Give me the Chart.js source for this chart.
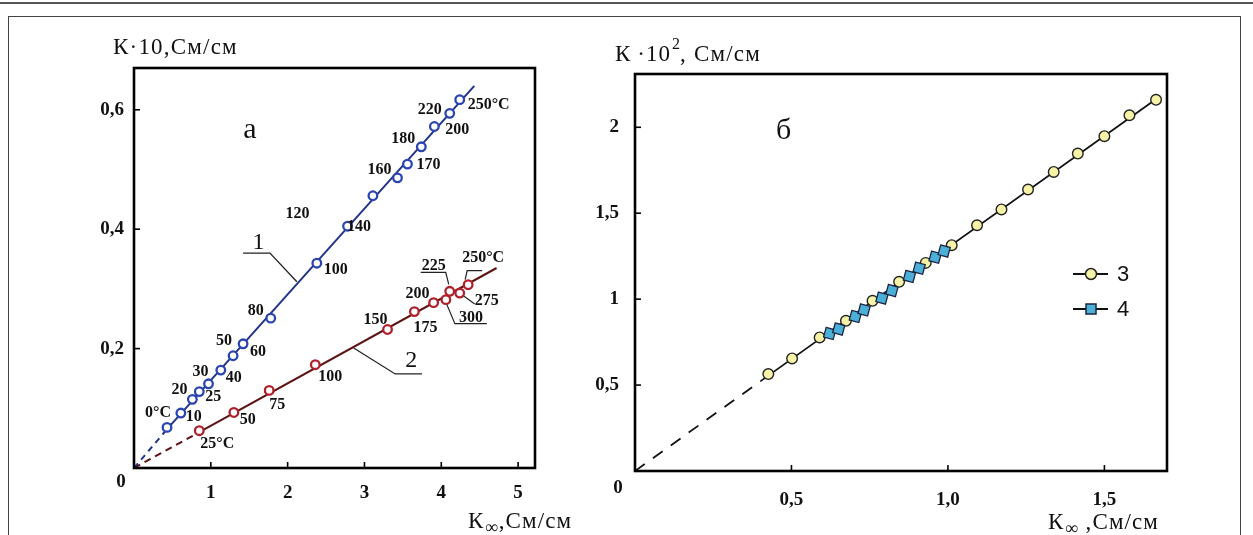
<!DOCTYPE html>
<html><head><meta charset="utf-8">
<script src="https://cdn.jsdelivr.net/npm/chart.js@4.4.1/dist/chart.umd.min.js"></script>
<style>
html,body{margin:0;padding:0;background:#fff;width:1253px;height:535px;overflow:hidden;position:relative}
#topline{position:absolute;left:0;top:2px;width:1253px;height:2px;background:#555}
#frame{position:absolute;left:8px;top:16px;width:1233px;height:600px;border:1.5px solid #444;box-sizing:border-box}
canvas{position:absolute;top:0}
#ca{left:0}
#cb{left:560px}
</style></head><body>
<div id="topline"></div><div id="frame"></div>
<canvas id="ca" width="600" height="535"></canvas>
<canvas id="cb" width="693" height="535"></canvas>
<script>
const SERIF = '"Liberation Serif", "Times New Roman", serif';
const SANS = '"Liberation Sans", Arial, sans-serif';

// ---------- Panel а ----------
const aXMax = 5.22, aYMax = 0.67;
// series 1 (blue)
const s1X = [0.43, 0.61, 0.76, 0.85, 0.97, 1.13, 1.29, 1.42, 1.78, 2.38, 2.78, 3.11, 3.43, 3.56, 3.74, 3.91, 4.11, 4.24];
const s1Y = [0.068, 0.092, 0.115, 0.128, 0.141, 0.164, 0.188, 0.208, 0.251, 0.343, 0.405, 0.456, 0.486, 0.509, 0.538, 0.572, 0.594, 0.617];
const s1T = ['0°C','10','20','25','30','40','50','60','80','100','120','140','160','170','180','200','220','250°C'];
// series 2 (red)
const s2X = [0.85, 1.30, 1.76, 2.36, 3.30, 3.65, 3.90, 4.06, 4.11, 4.24, 4.35];
const s2Y = [0.0625, 0.093, 0.130, 0.173, 0.232, 0.262, 0.277, 0.282, 0.296, 0.293, 0.307];
const s2T = ['25°C','50','75','100','150','175','200','300','225','275','250°C'];
// fitted lines (dashed part to origin, then solid)
const fit1X = [0, 0.43, 4.43], fit1Y = [0, 0.065, 0.640];
const fit2X = [0, 0.85, 4.72], fit2Y = [0, 0.060, 0.335];

// ---------- Panel б ----------
const bXMax = 1.70, bYMax = 2.31;
const s3X = [0.426, 0.502, 0.590, 0.674, 0.759, 0.844, 0.929, 1.012, 1.093, 1.171, 1.256, 1.338, 1.415, 1.500, 1.580, 1.665];
const s3Y = [0.564, 0.655, 0.777, 0.874, 0.990, 1.101, 1.211, 1.314, 1.430, 1.522, 1.638, 1.740, 1.847, 1.948, 2.070, 2.160];
const s4X = [0.622, 0.651, 0.704, 0.732, 0.789, 0.821, 0.877, 0.908, 0.959, 0.988];
const s4Y = [0.800, 0.826, 0.899, 0.937, 1.006, 1.050, 1.132, 1.180, 1.244, 1.280];
const fit3X = [0, 0.426, 1.67], fit3Y = [0, 0.555, 2.17];
const legendNames = ['3', '4'];

// ---------- layout tables (pixel offsets of the temperature labels) ----------
const s1LabelOff = [[-9,-15],[13,4],[-13,-9],[14,5],[-8,-12],[13,8],[-9,-15],[15,8],[-15,-7],[19,7],[-50,-12],[-14,31],[-18,-8],[21,1],[-18,-8],[23,3],[-20,-4],[8,5,'left']];
const s2LabelOff = [[18,13],[14,7],[8,14],[15,12],[-12,-10],[11,16],[-16,-9],[25,18],[-16,-25],[27,8],[-6,-27,'left']];
// callout leaders in data units for panel а
const calloutA = [
  {text:'1', at:[1.62, 0.378], path:[[1.42,0.360],[1.77,0.360],[2.12,0.312]]},
  {text:'2', at:[3.61, 0.180], path:[[2.86,0.201],[3.40,0.1575],[3.75,0.1575]]}
];

const C1 = '#2a44b0', C1L = '#22338a', C2 = '#b0202a', C2L = '#5e1212';

function fmtInt(v){ return Number.isInteger(v) ? String(v) : v.toFixed(1).replace('.', ','); }
function fmt1(v){ return v.toFixed(1).replace('.', ','); }
function pts(xs, ys){ return xs.map((x,i)=>({x, y:ys[i]})); }
function seg(ctx, pts){ ctx.beginPath(); ctx.moveTo(pts[0][0],pts[0][1]); for(let i=1;i<pts.length;i++) ctx.lineTo(pts[i][0],pts[i][1]); ctx.stroke(); }

function drawFrame(chart, tickLen){
  const {ctx, chartArea:a, scales:{x,y}} = chart;
  ctx.save();
  ctx.strokeStyle = '#000';
  ctx.lineWidth = 1.6;
  x.ticks.forEach(t=>{ if(t.value>0){ const p=x.getPixelForValue(t.value); seg(ctx,[[p,a.bottom],[p,a.bottom-tickLen]]);} });
  y.ticks.forEach(t=>{ if(t.value>0){ const p=y.getPixelForValue(t.value); seg(ctx,[[a.left,p],[a.left+tickLen,p]]);} });
  ctx.lineWidth = 2.6;
  ctx.strokeRect(a.left, a.top, a.right-a.left, a.bottom-a.top);
  ctx.restore();
}
function txt(ctx, s, x, y, font, sp){
  ctx.font = font; ctx.letterSpacing = (sp||0)+'px';
  ctx.fillText(s, x, y);
  const w = ctx.measureText(s).width;
  ctx.letterSpacing = '0px';
  return w;
}
function drawKappaInf(ctx, x, y, rest){
  ctx.textAlign='left'; ctx.textBaseline='middle';
  let xx = x;
  xx += txt(ctx, 'К', xx, y, '23px '+SERIF, 0.6);
  xx += txt(ctx, '∞', xx+1, y+6, '18px '+SERIF, 0) + 2;
  txt(ctx, rest, xx, y, '23px '+SERIF, 1.1);
}

const plugA = {
  id:'plugA',
  afterDraw(chart){
    const {ctx, chartArea:a, scales:{x,y}} = chart;
    drawFrame(chart, 6);
    ctx.save();
    ctx.fillStyle = '#111';
    ctx.textBaseline = 'middle';
    // temperature labels
    ctx.font = 'bold 16px '+SERIF;
    s1T.forEach((t,i)=>{ const o=s1LabelOff[i]; ctx.textAlign=o[2]||'center'; ctx.fillText(t, x.getPixelForValue(s1X[i])+o[0], y.getPixelForValue(s1Y[i])+o[1]); });
    s2T.forEach((t,i)=>{ const o=s2LabelOff[i]; ctx.textAlign=o[2]||'center'; ctx.fillText(t, x.getPixelForValue(s2X[i])+o[0], y.getPixelForValue(s2Y[i])+o[1]); });
    // small leaders for crowded red points
    ctx.strokeStyle='#222'; ctx.lineWidth=1.2;
    const P = i => [x.getPixelForValue(s2X[i]), y.getPixelForValue(s2Y[i])];
    let p = P(8); seg(ctx, [[p[0]-29,p[1]-19],[p[0]-4,p[1]-19],[p[0]-1,p[1]-7]]);      // 225
    p = P(7); seg(ctx, [[p[0]+1,p[1]+5],[p[0]+9,p[1]+24],[p[0]+41,p[1]+24]]);          // 300
    p = P(9); seg(ctx, [[p[0]+4,p[1]+3],[p[0]+15,p[1]+11]]);                           // 275
    p = P(10); seg(ctx, [[p[0]-3,p[1]-5],[p[0]-1,p[1]-14],[p[0]+14,p[1]-14]]);       // 250
    // callouts 1 and 2
    ctx.lineWidth = 1.3;
    ctx.font = '24px '+SERIF; ctx.textAlign='center';
    calloutA.forEach(c=>{
      seg(ctx, c.path.map(q=>[x.getPixelForValue(q[0]), y.getPixelForValue(q[1])]));
      ctx.fillText(c.text, x.getPixelForValue(c.at[0]), y.getPixelForValue(c.at[1]));
    });
    // panel letter
    ctx.font = '30px '+SERIF;
    ctx.fillText('а', x.getPixelForValue(1.51), y.getPixelForValue(0.566));
    // corner zero
    ctx.font = 'bold 19px '+SERIF;
    ctx.fillText('0', a.left-13, a.bottom+14);
    // axis titles
    ctx.textAlign='left';
    txt(ctx, 'К·10,См/см', a.left-21, a.top-20, '23px '+SERIF, 1.2);
    drawKappaInf(ctx, a.right-67, a.bottom+54, ',См/см');
    ctx.restore();
  }
};

const plugB = {
  id:'plugB',
  afterDraw(chart){
    const {ctx, chartArea:a, scales:{x,y}} = chart;
    drawFrame(chart, 6);
    ctx.save();
    ctx.fillStyle = '#111';
    ctx.textBaseline='middle';
    ctx.font = '30px '+SERIF; ctx.textAlign='center';
    ctx.fillText('б', x.getPixelForValue(0.475), y.getPixelForValue(1.98));
    ctx.font = 'bold 19px '+SERIF;
    ctx.fillText('0', a.left-17, a.bottom+17);
    // y title
    ctx.textAlign='left';
    let xx = a.left-20, yy = a.top-19;
    xx += txt(ctx, 'К', xx, yy, '23px '+SERIF, 0) + 7;
    xx += txt(ctx, '·10', xx, yy, '23px '+SERIF, 1) + 1;
    xx += txt(ctx, '2', xx, yy-10, '16px '+SERIF, 0);
    txt(ctx, ', См/см', xx, yy, '23px '+SERIF, 1.2);
    drawKappaInf(ctx, a.right-119, a.bottom+52, ' ,См/см');
    // legend
    const lx = a.right-76, ly = [a.top+200, a.top+235];
    ctx.strokeStyle='#111'; ctx.lineWidth=2;
    ly.forEach((yv,i)=>{
      seg(ctx, [[lx-18,yv],[lx+17,yv]]);
      ctx.lineWidth=1.5;
      if(i===0){ ctx.beginPath(); ctx.arc(lx,yv,5.5,0,Math.PI*2); ctx.fillStyle='#f6f2a6'; ctx.fill(); ctx.strokeStyle='#222'; ctx.stroke(); }
      else { ctx.fillStyle='#4bb0d8'; ctx.fillRect(lx-5,yv-5,10,10); ctx.strokeStyle='#1b2440'; ctx.strokeRect(lx-5,yv-5,10,10); }
      ctx.lineWidth=2; ctx.strokeStyle='#111';
      ctx.fillStyle='#111'; ctx.font='22px '+SANS; ctx.textAlign='left';
      ctx.fillText(legendNames[i], lx+26, yv+1);
    });
    ctx.restore();
  }
};

function fitDataset(xs, ys, color, dash, width){
  return { data: pts(xs, ys), showLine:true, borderColor:color, borderWidth:width, pointRadius:0, pointHoverRadius:0, fill:false, tension:0, order:3,
    segment:{ borderDash: c => c.p0DataIndex===0 ? dash : undefined } };
}
function scaleOpts(max, step, size, isX, pad, fmt){
  return {
    type:'linear', min:0, max:max,
    afterFit: s => { if(isX) s.height = size; else s.width = size; },
    grid:{ display:false, drawTicks:false }, border:{ display:false },
    ticks:{ stepSize:step, includeBounds:false, autoSkip:false, maxRotation:0, padding:pad, color:'#111',
      font:{ family:SERIF, size:19, weight:'bold' },
      callback: v => v===0 ? '' : fmt(v) }
  };
}
const common = { responsive:false, animation:false, events:[], devicePixelRatio:1,
  plugins:{ legend:{display:false}, tooltip:{enabled:false} } };

new Chart(document.getElementById('ca'), {
  type:'scatter',
  data:{ datasets:[
    { data: pts(s1X, s1Y), showLine:false, pointRadius:4.3, pointBorderWidth:2.3, pointBackgroundColor:'#fff', pointBorderColor:C1, order:1 },
    { data: pts(s2X, s2Y), showLine:false, pointRadius:4.3, pointBorderWidth:2.3, pointBackgroundColor:'#fff', pointBorderColor:C2, order:1 },
    fitDataset(fit1X, fit1Y, C1L, [6,5], 2),
    fitDataset(fit2X, fit2Y, C2L, [7,5], 2)
  ]},
  options: Object.assign({}, common, {
    layout:{ padding:{ left:0, top:68, right:65, bottom:17 } },
    scales:{ x: scaleOpts(aXMax, 1, 50, true, 14, fmtInt), y: scaleOpts(aYMax, 0.2, 134, false, 10, fmtInt) }
  }),
  plugins:[plugA]
});

new Chart(document.getElementById('cb'), {
  type:'scatter',
  data:{ datasets:[
    { data: pts(s4X, s4Y), showLine:false, pointStyle:'rect', pointRotation:15, pointRadius:7, pointBorderWidth:1.3, pointBackgroundColor:'#4bb0d8', pointBorderColor:'#1b2440', order:1 },
    { data: pts(s3X, s3Y), showLine:false, pointRadius:5.3, pointBorderWidth:1.4, pointBackgroundColor:'#f6f2a6', pointBorderColor:'#222', order:2 },
    fitDataset(fit3X, fit3Y, '#111', [12,10], 1.8)
  ]},
  options: Object.assign({}, common, {
    layout:{ padding:{ left:0, top:74, right:86, bottom:14 } },
    scales:{ x: scaleOpts(bXMax, 0.5, 50, true, 18, fmt1), y: scaleOpts(bYMax, 0.5, 75, false, 16, fmtInt) }
  }),
  plugins:[plugB]
});
</script></body></html>
